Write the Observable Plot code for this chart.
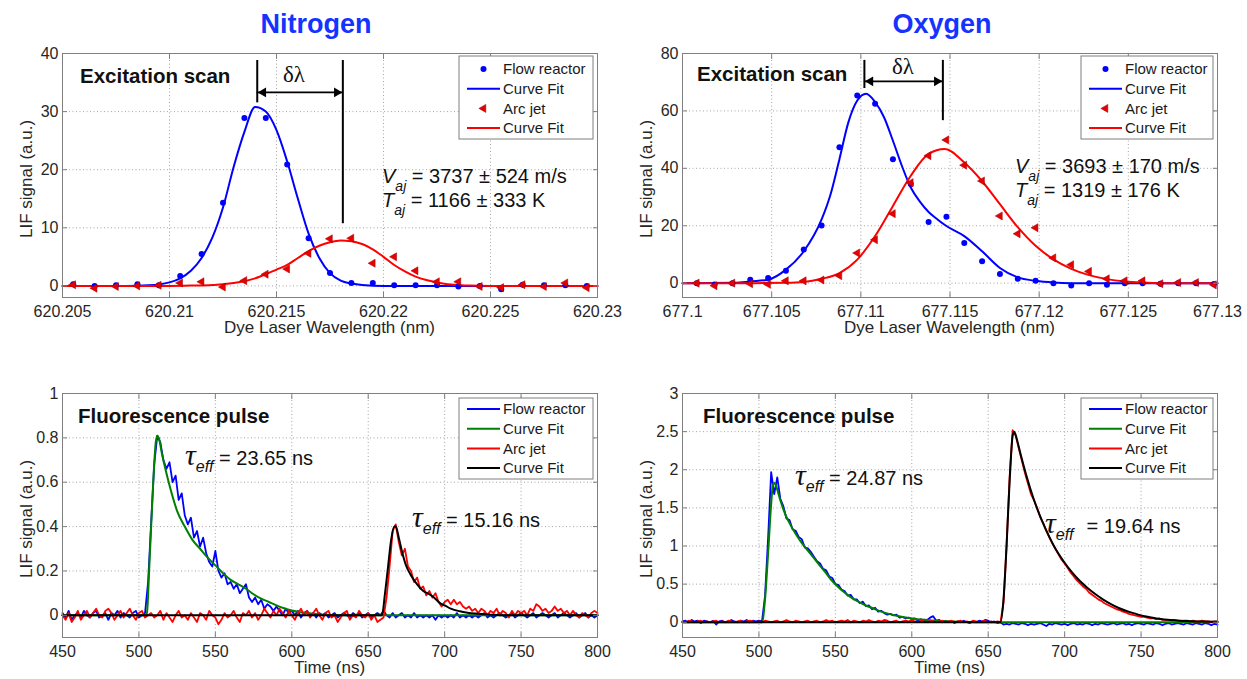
<!DOCTYPE html>
<html>
<head>
<meta charset="utf-8">
<script src="https://cdn.jsdelivr.net/npm/d3@7"></script>
<script src="https://cdn.jsdelivr.net/npm/@observablehq/plot@0.6"></script>
<style>
  html, body { margin: 0; padding: 0; background: #fff; }
  #fig { position: relative; width: 1247px; height: 679px; overflow: hidden; background: #fff; font-family: "Liberation Sans", Arial, sans-serif; }
  .title { position: absolute; top: 9px; transform: translateX(-50%); font-size: 27px; font-weight: bold; color: #1433ff; white-space: nowrap; }
  .panel { position: absolute; }
  .panel svg { display: block; }
</style>
</head>
<body>
<div id="fig"></div>
<script>
// ---------------- DATA ----------------
const titles = ["Nitrogen", "Oxygen"];

// Nitrogen excitation scan (LIF signal vs dye laser wavelength, nm)
const n2Wavelength = [620.2055, 620.2065, 620.2075, 620.2085, 620.2095, 620.2105, 620.2115, 620.2125, 620.2135, 620.2145,
  620.2155, 620.2165, 620.2175, 620.2185, 620.2195, 620.2205, 620.2215, 620.2225, 620.2235, 620.2245,
  620.2255, 620.2265, 620.2275, 620.2285, 620.2295];
const n2FlowReactor = [0.3, 0.0, 0.1, 0.3, 0.1, 1.7, 5.5, 14.3, 28.9, 28.9, 20.9, 8.2, 2.2, 0.5, 0.5, 0.1, 0.1, 0.1, -0.1, 0.0, -0.6, 0.2, 0.1, 0.1, 0.0];
const n2ArcJet = [0.2, -0.4, -0.1, 0.0, 0.1, 0.5, 0.7, -0.2, 0.9, 2.0, 2.9, 5.6, 8.1, 8.2, 3.9, 5.0, 2.6, 0.7, 0.7, -0.1, -0.3, 0.2, -0.1, 0.5, -0.3];
const n2FlowFitX = [620.205, 620.208, 620.209, 620.2095, 620.21, 620.2105, 620.211, 620.2115, 620.212, 620.2125, 620.213, 620.2135, 620.214,
  620.2145, 620.215, 620.2155, 620.216, 620.2165, 620.217, 620.2175, 620.218, 620.2185, 620.219, 620.22, 620.23];
const n2FlowFitY = [0, 0, 0.1, 0.25, 0.6, 1.3, 2.6, 4.8, 8.3, 13.5, 20.5, 26.5, 30.8,
  30.0, 26.8, 21.4, 15.0, 9.0, 4.8, 2.2, 0.9, 0.4, 0.15, 0, 0];
const n2ArcFitX = [620.205, 620.21, 620.211, 620.212, 620.2125, 620.213, 620.2135, 620.214, 620.2145, 620.215, 620.2155, 620.216, 620.2165,
  620.217, 620.2175, 620.218, 620.2185, 620.219, 620.2195, 620.22, 620.2205, 620.221, 620.2215, 620.222, 620.2225, 620.223, 620.2235, 620.224, 620.225, 620.23];
const n2ArcFitY = [0, 0, 0.05, 0.15, 0.3, 0.5, 0.8, 1.3, 2.0, 2.8, 3.6, 4.8, 6.0,
  6.9, 7.5, 7.8, 7.7, 7.2, 6.3, 5.0, 3.6, 2.5, 1.6, 1.0, 0.6, 0.3, 0.15, 0.05, 0, 0];
const n2PeakX = [620.2141, 620.2181];      // fitted peak centres (delta-lambda markers)
const n2PeakLineLow = [31.5, 10.7];
const n2MarkerTop = 38.8, n2ArrowY = 33.3;

// Oxygen excitation scan
const o2Wavelength = [677.1008, 677.1018, 677.1028, 677.1038, 677.1048, 677.1058, 677.1068, 677.1078, 677.1088, 677.1098,
  677.1108, 677.1118, 677.1128, 677.1138, 677.1148, 677.1158, 677.1168, 677.1178, 677.1188, 677.1198,
  677.1208, 677.1218, 677.1228, 677.1238, 677.1248, 677.1258, 677.1268, 677.1278, 677.1288, 677.1298];
const o2FlowReactor = [0.0, -0.5, 0.0, 1.2, 1.8, 4.3, 11.7, 20.1, 47.3, 65.4, 62.5, 43.2, 34.5, 21.3, 23.1, 14.0, 7.6, 3.2, 1.5, 0.8,
  0.0, -0.8, 0.0, -0.6, 0.0, 0.0, -0.2, 0.0, 0.0, -0.3];
const o2ArcJet = [0.0, -0.9, 0.0, -0.2, -0.4, 0.8, 0.8, 1.1, 2.6, 10.5, 15.1, 24.2, 35.0, 44.4, 49.9, 41.1, 35.6, 23.4, 17.2, 19.3,
  8.8, 6.4, 4.1, 1.5, 0.8, 0.8, -0.2, 0.2, 0.2, -0.6];
const o2FlowFitX = [677.1, 677.103, 677.1038, 677.1048, 677.1058, 677.1068, 677.1078, 677.1083, 677.1088, 677.1093, 677.1098, 677.1103,
  677.1108, 677.1113, 677.1118, 677.1123, 677.1128, 677.1133, 677.1138, 677.1143, 677.1148, 677.1158, 677.1168, 677.1178, 677.1188,
  677.1198, 677.1208, 677.1218, 677.13];
const o2FlowFitY = [0, 0.1, 0.6, 1.2, 4.7, 11.1, 22.2, 30.9, 43.2, 56.0, 63.6, 66.0,
  63.1, 57.8, 49.6, 40.9, 33.3, 28.5, 24.8, 22.2, 19.9, 16.4, 11.1, 5.3, 2.0,
  0.8, 0.2, 0, 0];
const o2ArcFitX = [677.1, 677.104, 677.1058, 677.1068, 677.1078, 677.1088, 677.1098, 677.1108, 677.1118, 677.1128, 677.1138, 677.1147,
  677.1158, 677.1168, 677.1178, 677.1188, 677.1198, 677.1208, 677.1218, 677.1228, 677.1238, 677.1248, 677.1258, 677.1268, 677.13];
const o2ArcFitY = [0, 0, 0.1, 0.4, 1.5, 3.5, 8.2, 16.4, 26.9, 37.4, 45.0, 46.7,
  42.0, 35.5, 27.5, 19.5, 13.0, 8.3, 5.0, 2.8, 1.4, 0.6, 0.2, 0, 0];
const o2PeakX = [677.1102, 677.1146];
const o2PeakLineLow = [67.8, 56.6];
const o2MarkerTop = 77.6, o2ArrowY = 70.3;

// Fluorescence pulses, sampled every 2 ns from 450 ns to 800 ns
const fluorTime = d3.range(450, 801, 2);
const n2FlowTrace = [
  0.01, -0.01, 0.02, -0.02, 0.00, 0.01, -0.01, 0.02, 0.00, -0.01,
  0.01, 0.02, -0.01, 0.00, 0.01, -0.02, 0.01, 0.00, 0.02, -0.01,
  0.01, 0.00, -0.01, 0.01, 0.02, -0.01, 0.00, 0.01, 0.15, 0.42,
  0.68, 0.81, 0.78, 0.70, 0.66, 0.69, 0.60, 0.63, 0.52, 0.55,
  0.45, 0.41, 0.44, 0.35, 0.38, 0.31, 0.35, 0.28, 0.24, 0.22,
  0.29, 0.20, 0.17, 0.19, 0.14, 0.15, 0.12, 0.14, 0.10, 0.12,
  0.14, 0.08, 0.06, 0.08, 0.05, 0.07, 0.03, 0.05, 0.04, 0.02,
  0.04, 0.02, 0.00, 0.03, 0.01, 0.02, 0.00, 0.02, -0.01, 0.01,
  0.02, 0.00, 0.01, -0.01, 0.01, 0.00, 0.01, -0.01, 0.00, 0.01,
  -0.01, 0.00, 0.01, 0.00, -0.01, 0.01, 0.00, 0.01, -0.01, 0.00,
  0.01, -0.01, 0.00, 0.01, 0.00, 0.02, 0.00, -0.01, 0.01, -0.01,
  0.00, 0.01, -0.01, 0.00, -0.01, 0.01, -0.01, 0.00, -0.01, 0.00,
  -0.01, 0.00, -0.02, 0.00, -0.01, 0.00, -0.01, 0.00, -0.01, 0.01,
  -0.01, 0.00, -0.01, 0.00, -0.01, 0.00, -0.01, 0.00, 0.01, -0.01,
  0.00, -0.01, 0.00, 0.01, 0.00, -0.01, 0.00, 0.01, -0.01, 0.00,
  0.01, 0.00, -0.01, 0.00, 0.01, -0.01, 0.00, 0.01, 0.00, -0.01,
  0.00, 0.01, -0.01, 0.00, 0.01, 0.00, -0.01, 0.00, 0.01, -0.01,
  0.00, 0.01, -0.01, 0.00, -0.01, 0.00];
const n2ArcTrace = [
  0.00, -0.02, 0.01, -0.03, -0.01, 0.02, -0.02, 0.00, 0.02, -0.01,
  0.01, 0.03, 0.00, -0.01, 0.02, 0.03, 0.01, -0.02, 0.00, 0.02,
  -0.01, 0.01, 0.03, 0.00, -0.02, 0.01, 0.02, -0.01, 0.00, 0.01,
  -0.01, 0.00, 0.02, -0.02, 0.01, -0.01, -0.03, 0.00, 0.02, -0.01,
  0.00, -0.02, 0.01, -0.01, -0.03, 0.01, 0.00, -0.02, 0.02, 0.00,
  -0.01, -0.04, -0.02, 0.01, -0.01, 0.00, 0.02, -0.01, -0.03, 0.01,
  0.00, 0.02, -0.01, 0.01, -0.02, 0.00, 0.03, 0.01, -0.01, 0.02,
  0.00, 0.03, 0.01, -0.01, 0.02, 0.00, -0.02, 0.01, 0.03, 0.00,
  0.02, -0.01, 0.01, 0.03, 0.00, -0.02, 0.01, 0.02, -0.01, 0.00,
  -0.03, -0.01, 0.01, 0.02, -0.02, 0.00, -0.01, 0.02, 0.00, -0.01,
  0.01, -0.02, 0.00, -0.03, -0.02, -0.01, 0.08, 0.22, 0.38, 0.41,
  0.33, 0.27, 0.30, 0.22, 0.20, 0.15, 0.17, 0.12, 0.13, 0.09,
  0.11, 0.08, 0.10, 0.06, 0.04, 0.06, 0.07, 0.05, 0.07, 0.05,
  0.06, 0.04, 0.03, 0.04, 0.02, 0.03, 0.01, 0.03, 0.02, 0.00,
  0.02, 0.01, 0.03, 0.00, 0.02, 0.01, -0.01, 0.02, 0.00, 0.02,
  0.01, 0.02, 0.00, 0.03, 0.02, 0.05, 0.04, 0.02, 0.03, 0.01,
  0.02, 0.04, 0.02, 0.03, 0.01, 0.02, 0.00, 0.02, 0.00, -0.01,
  0.01, 0.00, -0.01, 0.01, 0.02, 0.01];
const n2GreenFitX = [450, 504, 505, 507, 509, 511, 512, 513, 515, 518, 521, 525, 530, 535, 540, 545, 550, 555, 560, 565,
  570, 575, 580, 585, 590, 595, 600, 610, 620, 640, 800];
const n2GreenFitY = [0, 0, 0, 0.25, 0.55, 0.78, 0.81, 0.80, 0.73, 0.64, 0.56, 0.47, 0.40, 0.34, 0.30, 0.26, 0.225, 0.19, 0.16, 0.14,
  0.12, 0.095, 0.075, 0.06, 0.045, 0.032, 0.022, 0.01, 0.003, 0, 0];
const n2BlackFitX = [450, 659, 661, 663, 665, 667, 668, 670, 672, 675, 678, 682, 686, 690, 693, 697, 700, 704, 710, 715, 720, 730, 740, 800];
const n2BlackFitY = [0, 0, 0.1, 0.22, 0.34, 0.40, 0.40, 0.35, 0.29, 0.22, 0.18, 0.14, 0.11, 0.095, 0.08, 0.055, 0.045, 0.03, 0.018, 0.012, 0.008, 0.003, 0, 0];

const o2FlowTrace = [
  0.01, 0.02, 0.00, 0.03, 0.01, 0.02, -0.01, 0.02, 0.01, 0.00,
  0.02, -0.03, 0.01, 0.02, 0.00, 0.01, 0.03, 0.01, 0.00, 0.02,
  0.01, 0.03, 0.00, 0.02, 0.01, 0.02, 0.01, 0.35, 1.10, 1.97,
  1.68, 1.90, 1.62, 1.52, 1.36, 1.34, 1.22, 1.20, 1.12, 1.09,
  0.98, 0.97, 0.92, 0.86, 0.80, 0.77, 0.70, 0.68, 0.60, 0.58,
  0.50, 0.49, 0.43, 0.41, 0.35, 0.36, 0.30, 0.30, 0.25, 0.27,
  0.21, 0.22, 0.17, 0.19, 0.14, 0.15, 0.12, 0.10, 0.11, 0.09,
  0.10, 0.06, 0.07, 0.05, 0.06, 0.04, 0.05, 0.02, 0.04, 0.02,
  0.03, 0.06, 0.08, 0.02, 0.03, 0.00, 0.02, 0.00, 0.01, -0.01,
  0.01, 0.00, 0.02, 0.00, -0.01, 0.01, 0.00, 0.02, 0.01, 0.03,
  0.02, 0.00, 0.01, -0.01, 0.00, -0.03, -0.02, -0.03, -0.01, -0.02,
  -0.03, -0.01, -0.02, -0.04, -0.02, -0.03, -0.02, -0.01, -0.03, -0.05,
  -0.02, -0.03, -0.01, -0.02, -0.03, -0.02, -0.04, -0.02, -0.01, -0.03,
  -0.02, -0.03, -0.01, -0.02, -0.04, -0.02, -0.03, -0.01, -0.02, -0.03,
  -0.02, -0.01, -0.03, -0.02, -0.01, -0.03, -0.02, -0.04, -0.02, -0.01,
  -0.02, -0.03, -0.01, -0.02, -0.03, -0.01, -0.02, -0.04, -0.02, -0.01,
  -0.03, -0.02, -0.01, -0.02, -0.03, -0.01, -0.02, -0.03, -0.01, -0.02,
  -0.03, -0.01, -0.02, -0.04, -0.02, -0.03];
const o2ArcTrace = [
  0.01, 0.00, 0.02, 0.01, 0.00, 0.01, 0.02, 0.00, 0.01, 0.00,
  0.01, 0.02, 0.00, 0.01, 0.00, 0.02, 0.01, 0.00, 0.01, 0.02,
  0.00, 0.01, 0.02, 0.01, 0.00, 0.01, 0.00, 0.02, 0.01, 0.00,
  0.01, 0.02, 0.00, 0.01, 0.03, 0.01, 0.00, 0.02, 0.01, 0.00,
  0.01, 0.02, 0.00, 0.01, 0.02, 0.00, 0.01, 0.03, 0.01, 0.02,
  0.00, 0.01, 0.02, 0.01, 0.03, 0.00, 0.02, 0.01, 0.00, 0.02,
  0.01, 0.03, 0.01, 0.00, 0.02, 0.01, 0.03, 0.02, 0.00, 0.01,
  0.02, 0.00, 0.01, 0.02, 0.01, 0.03, 0.01, 0.00, 0.02, 0.01,
  0.00, 0.02, 0.01, 0.00, 0.01, 0.02, 0.00, 0.01, 0.02, 0.00,
  0.01, 0.02, 0.00, 0.01, 0.00, 0.02, 0.01, 0.00, 0.01, 0.02,
  0.00, 0.01, 0.00, 0.01, 0.00, 0.25, 1.00, 1.90, 2.52, 2.45,
  2.28, 2.12, 1.96, 1.82, 1.68, 1.60, 1.50, 1.38, 1.30, 1.20,
  1.11, 1.03, 0.96, 0.89, 0.82, 0.77, 0.71, 0.65, 0.60, 0.55,
  0.51, 0.47, 0.44, 0.39, 0.36, 0.33, 0.30, 0.28, 0.25, 0.23,
  0.21, 0.19, 0.17, 0.16, 0.14, 0.13, 0.11, 0.10, 0.09, 0.08,
  0.07, 0.07, 0.06, 0.05, 0.05, 0.04, 0.05, 0.03, 0.03, 0.03,
  0.02, 0.03, 0.02, 0.01, 0.02, 0.02, 0.01, 0.02, 0.01, 0.01,
  0.02, 0.01, 0.01, 0.00, 0.01, 0.01];
const o2GreenFitX = [450, 502, 504, 506, 508, 509, 510, 511, 512, 514, 516, 518, 520, 524, 528, 532, 536, 540, 544, 548,
  552, 556, 560, 565, 570, 575, 580, 585, 590, 595, 600, 610, 620, 630, 650, 800];
const o2GreenFitY = [0, 0, 0.3, 0.9, 1.55, 1.78, 1.83, 1.80, 1.74, 1.60, 1.48, 1.38, 1.30, 1.16, 1.04, 0.94, 0.84, 0.74, 0.64, 0.54,
  0.46, 0.39, 0.33, 0.27, 0.22, 0.18, 0.14, 0.11, 0.085, 0.065, 0.05, 0.03, 0.015, 0.008, 0, 0];
const o2BlackFitX = [450, 658, 660, 662, 664, 666, 667, 668, 670, 672, 675, 680, 685, 690, 695, 700, 705, 710, 715, 720,
  725, 730, 735, 740, 745, 750, 755, 760, 770, 780, 790, 800];
const o2BlackFitY = [0, 0, 0.3, 1.0, 1.85, 2.45, 2.50, 2.45, 2.30, 2.14, 1.92, 1.60, 1.34, 1.12, 0.93, 0.78, 0.65, 0.54, 0.45, 0.37,
  0.30, 0.24, 0.19, 0.15, 0.12, 0.09, 0.07, 0.05, 0.03, 0.015, 0.01, 0.005];

// Axis ticks
const n2WaveTicks = [620.205, 620.21, 620.215, 620.22, 620.225, 620.23];
const n2ScanTicks = [0, 10, 20, 30, 40];
const o2WaveTicks = [677.1, 677.105, 677.11, 677.115, 677.12, 677.125, 677.13];
const o2ScanTicks = [0, 20, 40, 60, 80];
const timeTicks = [450, 500, 550, 600, 650, 700, 750, 800];
const n2PulseTicks = [0, 0.2, 0.4, 0.6, 0.8, 1];
const o2PulseTicks = [0, 0.5, 1, 1.5, 2, 2.5, 3];

// Legend labels
const scanLegend = ["Flow reactor", "Curve Fit", "Arc jet", "Curve Fit"];
const pulseLegend = ["Flow reactor", "Curve Fit", "Arc jet", "Curve Fit"];

// ---------------- DRAWING ----------------
const FONT = '"Liberation Sans", Arial, sans-serif';
const SERIF = '"Liberation Serif", "Times New Roman", serif';
const BLUE = "#0000ff", RED = "#ff0000", GREEN = "#008000", BLACK = "#000000";
const AX = "#7f7f7f", TXT = "#262626";
const fig = document.getElementById("fig");

const xy = (xs, ys) => xs.map((x, i) => ({x, y: ys[i]}));
const fmtWave = d3.format(".3~f");
const fmtPulse = d3.format(".1~f");

function frameMarks(xTicks, yTicks, xFmt, yFmt) {
  const grid = {stroke: "#a6a6a6", strokeOpacity: 1, strokeDasharray: "1,2.5"};
  return {
    under: [Plot.gridX(xTicks, grid), Plot.gridY(yTicks, grid)],
    over: [
      Plot.frame({stroke: AX}),
      Plot.axisX(xTicks, {anchor: "bottom", tickSize: -5, tickPadding: 13, tickFormat: xFmt, label: null, stroke: AX, fill: TXT}),
      Plot.axisX(xTicks, {anchor: "top", tickSize: -5, label: null, stroke: AX, fill: "none"}),
      Plot.axisY(yTicks, {anchor: "left", tickSize: -5, tickPadding: 9, tickFormat: yFmt, label: null, stroke: AX, fill: TXT}),
      Plot.axisY(yTicks, {anchor: "right", tickSize: -5, label: null, stroke: AX, fill: "none"})
    ]
  };
}

function legendMark(labels, kinds, colors, box) {
  return (index, scales, values, dims) => {
    const g = d3.create("svg:g").attr("text-anchor", "start");
    const ox = dims.marginLeft + box.x, oy = dims.marginTop + box.y;
    g.append("rect").attr("x", ox).attr("y", oy).attr("width", box.w).attr("height", box.h)
      .attr("fill", "#fff").attr("stroke", AX).attr("stroke-width", 1);
    labels.forEach((label, i) => {
      const cy = oy + box.row0 + i * 19.7;
      const kind = kinds[i], color = colors[i];
      if (kind === "line") {
        g.append("line").attr("x1", ox + 8).attr("x2", ox + 41).attr("y1", cy).attr("y2", cy)
          .attr("stroke", color).attr("stroke-width", 2);
      } else if (kind === "dot") {
        g.append("circle").attr("cx", ox + 24.5).attr("cy", cy).attr("r", 3).attr("fill", color);
      } else {
        g.append("path").attr("d", d3.symbol(d3.symbolTriangle, 28)())
          .attr("transform", `translate(${ox + 24.5},${cy}) rotate(-90)`)
          .attr("fill", "#e60000").attr("stroke", "#a00000").attr("stroke-width", 0.5);
      }
      g.append("text").attr("x", ox + 44).attr("y", cy).attr("dy", "0.35em").attr("text-anchor", "start")
        .attr("font-size", 15).attr("fill", "#1a1a1a").text(label);
    });
    return g.node();
  };
}

function annotMark(items) {
  return (index, scales, values, dims) => {
    const g = d3.create("svg:g");
    for (const it of items) {
      const px = dims.marginLeft + it.x, py = dims.marginTop + it.y;
      const t = g.append("text").attr("x", px).attr("y", py)
        .attr("text-anchor", it.anchor || "start").attr("fill", it.fill || "#111");
      if (it.rotate) t.attr("transform", `rotate(${it.rotate} ${px} ${py})`);
      if (it.dy) t.attr("dy", it.dy);
      for (const p of it.parts) {
        const s = t.append("tspan").text(p.t).attr("font-size", p.size);
        if (p.italic) s.attr("font-style", "italic");
        if (p.bold) s.attr("font-weight", "bold");
        if (p.family) s.attr("font-family", p.family);
        if (p.dy) s.attr("dy", p.dy);
        if (p.dx) s.attr("dx", p.dx);
      }
    }
    return g.node();
  };
}

function deltaLambda(peakX, lows, top, arrowY) {
  const lines = peakX.map((x, i) => ({x, y1: lows[i], y2: top}));
  return [
    Plot.ruleX(lines, {x: "x", y1: "y1", y2: "y2", stroke: BLACK, strokeWidth: 2}),
    Plot.ruleY([{y: arrowY, x1: peakX[0], x2: peakX[1]}], {y: "y", x1: "x1", x2: "x2", stroke: BLACK, strokeWidth: 1.8}),
    Plot.dot([{x: peakX[0], y: arrowY}], {x: "x", y: "y", symbol: "triangle", rotate: -90, r: 3.6, fill: BLACK, dx: 6}),
    Plot.dot([{x: peakX[1], y: arrowY}], {x: "x", y: "y", symbol: "triangle", rotate: 90, r: 3.6, fill: BLACK, dx: -6})
  ];
}

const yLabel = {x: -36, y: 126, rotate: -90, anchor: "middle", dy: "0.35em", fill: TXT, parts: [{t: "LIF signal (a.u.)", size: 17}]};
const xLabel = (text) => ({x: 267.5, y: 274, anchor: "middle", dy: "0.35em", fill: TXT, parts: [{t: text, size: 17}]});
const subText = (main, sub, rest, x, y) => ({x, y, parts: [
  {t: main, size: 20, italic: true}, {t: sub, size: 14, italic: true, dy: 8}, {t: rest, size: 20, dy: -8}]});
const tauText = (rest, x, y, gap) => ({x, y, parts: [
  {t: "τ", size: 30, italic: true, family: SERIF}, {t: "eff", size: 16, italic: true, dy: 7},
  {t: rest, size: 20, dy: -7, dx: gap || 0}]});

function makePanel({left, top, width, height, mL, mR, mB, xDomain, yDomain, xTicks, yTicks, xFmt, yFmt, marks}) {
  const fm = frameMarks(xTicks, yTicks, xFmt, yFmt);
  const svg = Plot.plot({
    width, height, marginLeft: mL, marginRight: mR, marginTop: 13, marginBottom: mB,
    x: {domain: xDomain}, y: {domain: yDomain},
    style: {fontFamily: FONT, fontSize: "16px", color: TXT, background: "transparent", overflow: "visible"},
    marks: [...fm.under, ...marks.data, ...fm.over, ...marks.extra]
  });
  const d = document.createElement("div");
  d.className = "panel";
  d.style.left = left + "px";
  d.style.top = top + "px";
  d.appendChild(svg);
  fig.appendChild(d);
}

// Titles
[[titles[0], 316], [titles[1], 942]].forEach(([t, x]) => {
  const d = document.createElement("div");
  d.className = "title"; d.style.left = x + "px"; d.textContent = t;
  fig.appendChild(d);
});

const triStyle = {symbol: "triangle", rotate: -90, r: 3.0, fill: "#e60000", stroke: "#a00000", strokeWidth: 0.5};

// ---- Nitrogen excitation scan ----
const n2Points = n2Wavelength.map((x, i) => ({x, flow: n2FlowReactor[i], arc: n2ArcJet[i]}));
makePanel({
  left: 0, top: 40, width: 620, height: 300, mL: 62, mR: 23, mB: 43,
  xDomain: [620.205, 620.23], yDomain: [-2, 40], xTicks: n2WaveTicks, yTicks: n2ScanTicks, xFmt: fmtWave, yFmt: d3.format("d"),
  marks: {
    data: [
      Plot.line(xy(n2FlowFitX, n2FlowFitY), {x: "x", y: "y", stroke: BLUE, strokeWidth: 2, curve: "monotone-x"}),
      Plot.line(xy(n2ArcFitX, n2ArcFitY), {x: "x", y: "y", stroke: RED, strokeWidth: 2, curve: "monotone-x"}),
      Plot.dot(n2Points, {x: "x", y: "flow", r: 3, fill: BLUE}),
      Plot.dot(n2Points, {x: "x", y: "arc", ...triStyle}),
      ...deltaLambda(n2PeakX, n2PeakLineLow, n2MarkerTop, n2ArrowY)
    ],
    extra: [
      legendMark(scanLegend, ["dot", "line", "tri", "line"], [BLUE, BLUE, RED, RED], {x: 397, y: 3, w: 134, h: 83, row0: 13}),
      annotMark([
        {x: 18, y: 30, parts: [{t: "Excitation scan", size: 20.5, bold: true}]},
        {x: 232, y: 29, anchor: "middle", parts: [{t: "δλ", size: 23, family: SERIF}]},
        subText("V", "aj", " = 3737 ± 524 m/s", 320, 130),
        subText("T", "aj", " = 1166 ± 333 K", 320, 154),
        yLabel, xLabel("Dye Laser Wavelength (nm)")
      ])
    ]
  }
});

// ---- Oxygen excitation scan ----
const o2Points = o2Wavelength.map((x, i) => ({x, flow: o2FlowReactor[i], arc: o2ArcJet[i]}));
makePanel({
  left: 620, top: 40, width: 627, height: 300, mL: 62, mR: 30, mB: 43,
  xDomain: [677.1, 677.13], yDomain: [-5, 80], xTicks: o2WaveTicks, yTicks: o2ScanTicks, xFmt: fmtWave, yFmt: d3.format("d"),
  marks: {
    data: [
      Plot.line(xy(o2FlowFitX, o2FlowFitY), {x: "x", y: "y", stroke: BLUE, strokeWidth: 2, curve: "monotone-x"}),
      Plot.line(xy(o2ArcFitX, o2ArcFitY), {x: "x", y: "y", stroke: RED, strokeWidth: 2, curve: "monotone-x"}),
      Plot.dot(o2Points, {x: "x", y: "flow", r: 3, fill: BLUE}),
      Plot.dot(o2Points, {x: "x", y: "arc", ...triStyle}),
      ...deltaLambda(o2PeakX, o2PeakLineLow, o2MarkerTop, o2ArrowY)
    ],
    extra: [
      legendMark(scanLegend, ["dot", "line", "tri", "line"], [BLUE, BLUE, RED, RED], {x: 399, y: 3, w: 132, h: 83, row0: 13}),
      annotMark([
        {x: 15, y: 28, parts: [{t: "Excitation scan", size: 20.5, bold: true}]},
        {x: 221, y: 20.5, anchor: "middle", parts: [{t: "δλ", size: 23, family: SERIF}]},
        subText("V", "aj", " = 3693 ± 170 m/s", 333, 120),
        subText("T", "aj", " = 1319 ± 176 K", 333, 144),
        yLabel, xLabel("Dye Laser Wavelength (nm)")
      ])
    ]
  }
});

// ---- Nitrogen fluorescence pulse ----
const n2Trace = fluorTime.map((t, i) => ({t, flow: n2FlowTrace[i], arc: n2ArcTrace[i]}));
makePanel({
  left: 0, top: 380, width: 620, height: 299, mL: 62, mR: 23, mB: 42,
  xDomain: [450, 800], yDomain: [-0.1, 1], xTicks: timeTicks, yTicks: n2PulseTicks, xFmt: d3.format("d"), yFmt: fmtPulse,
  marks: {
    data: [
      Plot.line(n2Trace, {x: "t", y: "flow", stroke: BLUE, strokeWidth: 1.8}),
      Plot.line(xy(n2GreenFitX, n2GreenFitY), {x: "x", y: "y", stroke: GREEN, strokeWidth: 2, curve: "monotone-x"}),
      Plot.line(n2Trace, {x: "t", y: "arc", stroke: RED, strokeWidth: 1.8}),
      Plot.line(xy(n2BlackFitX, n2BlackFitY), {x: "x", y: "y", stroke: BLACK, strokeWidth: 2, curve: "monotone-x"})
    ],
    extra: [
      legendMark(pulseLegend, ["line", "line", "line", "line"], [BLUE, GREEN, RED, BLACK], {x: 397, y: 5, w: 134, h: 81, row0: 11}),
      annotMark([
        {x: 16, y: 30, parts: [{t: "Fluorescence pulse", size: 20.5, bold: true}]},
        tauText(" = 23.65 ns", 123, 72),
        tauText(" = 15.16 ns", 350, 134),
        yLabel, xLabel("Time (ns)")
      ])
    ]
  }
});

// ---- Oxygen fluorescence pulse ----
const o2Trace = fluorTime.map((t, i) => ({t, flow: o2FlowTrace[i], arc: o2ArcTrace[i]}));
makePanel({
  left: 620, top: 380, width: 627, height: 299, mL: 62, mR: 30, mB: 42,
  xDomain: [450, 800], yDomain: [-0.2, 3], xTicks: timeTicks, yTicks: o2PulseTicks, xFmt: d3.format("d"), yFmt: fmtPulse,
  marks: {
    data: [
      Plot.line(o2Trace, {x: "t", y: "flow", stroke: BLUE, strokeWidth: 1.8}),
      Plot.line(xy(o2GreenFitX, o2GreenFitY), {x: "x", y: "y", stroke: GREEN, strokeWidth: 2, curve: "monotone-x"}),
      Plot.line(o2Trace, {x: "t", y: "arc", stroke: RED, strokeWidth: 1.8}),
      Plot.line(xy(o2BlackFitX, o2BlackFitY), {x: "x", y: "y", stroke: BLACK, strokeWidth: 2, curve: "monotone-x"})
    ],
    extra: [
      legendMark(pulseLegend, ["line", "line", "line", "line"], [BLUE, GREEN, RED, BLACK], {x: 399, y: 5, w: 132, h: 81, row0: 11}),
      annotMark([
        {x: 21, y: 30, parts: [{t: "Fluorescence pulse", size: 20.5, bold: true}]},
        tauText(" = 24.87 ns", 113, 92),
        tauText("= 19.64 ns", 363, 140, 13),
        yLabel, xLabel("Time (ns)")
      ])
    ]
  }
});
</script>
</body>
</html>
